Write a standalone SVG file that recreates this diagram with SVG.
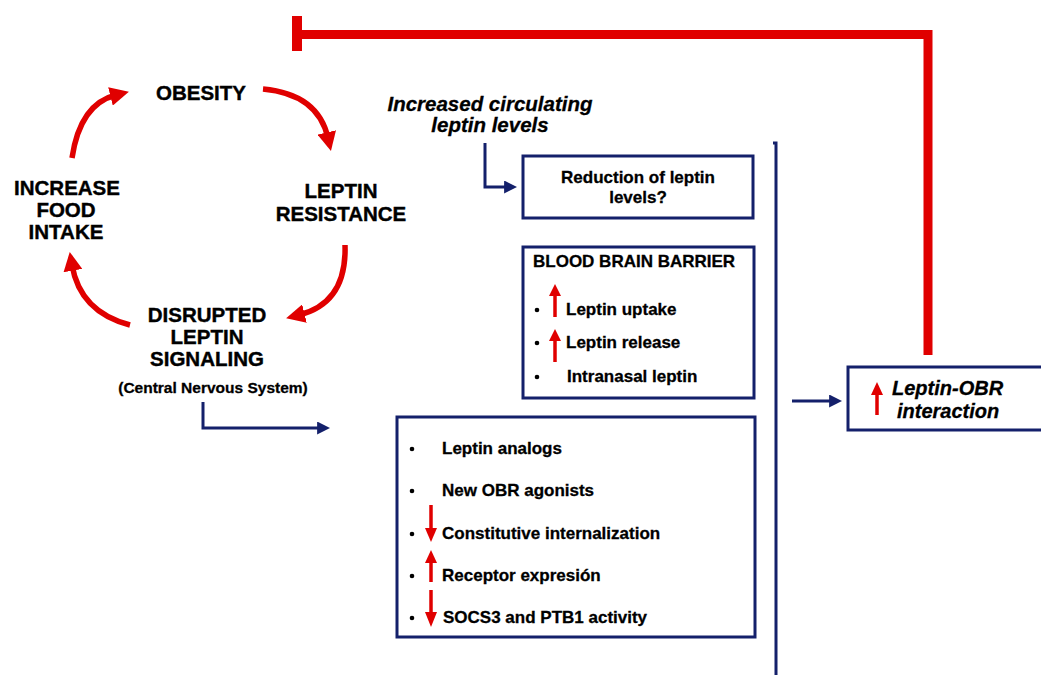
<svg xmlns="http://www.w3.org/2000/svg" width="1041" height="675" viewBox="0 0 1041 675">
<style>
.cyc{font-family:"Liberation Sans",Arial,sans-serif;font-weight:bold;font-size:20.5px;fill:#000;stroke:#000;stroke-width:0.4;text-anchor:middle}
.bx{font-family:"Liberation Sans",Arial,sans-serif;font-weight:bold;font-size:17px;fill:#000;stroke:#000;stroke-width:0.3}
.it{font-family:"Liberation Sans",Arial,sans-serif;font-weight:bold;font-style:italic;font-size:20.5px;fill:#000;stroke:#000;stroke-width:0.3}
.box{fill:#fff;stroke:#14206b;stroke-width:3}
.red{fill:none;stroke:#e00000;stroke-width:5.5}
.nav{fill:none;stroke:#14206b;stroke-width:3}
.rh{fill:#e00000}
.rs{stroke:#e00000;stroke-width:3.5}
.dot{fill:#000}
</style>
<defs>
<marker id="ra" viewBox="0 0 10 10" refX="3" refY="5" markerWidth="19" markerHeight="19" markerUnits="userSpaceOnUse" orient="auto"><path d="M0,0 L10,5 L0,10 z" fill="#e00000"/></marker>
<marker id="na" viewBox="0 0 10 10" refX="3" refY="5" markerWidth="13" markerHeight="13" markerUnits="userSpaceOnUse" orient="auto"><path d="M0,0 L10,5 L0,10 z" fill="#14206b"/></marker>
</defs>
<rect width="1041" height="675" fill="#fff"/>

<g id="connectors">
<path d="M297,34.5 H928 V355" fill="none" stroke="#e00000" stroke-width="9"/>
<rect x="292" y="16" width="10" height="35" fill="#e00000"/>
<path class="red" d="M72,158 Q80,104 116,95" marker-end="url(#ra)"/>
<path class="red" d="M263,89 Q318,94 328,138" marker-end="url(#ra)"/>
<path class="red" d="M345,245 Q347,303 299,315" marker-end="url(#ra)"/>
<path class="red" d="M130,325 Q80,312 72,265" marker-end="url(#ra)"/>
<path class="nav" d="M485,143 V187 H508" marker-end="url(#na)"/>
<path class="nav" d="M203,402 V428 H321" marker-end="url(#na)"/>
<path class="nav" d="M792,401 H833" marker-end="url(#na)"/>
<path class="nav" d="M773,143 H776 V675"/>
</g>

<g id="obesity"><text class="cyc" x="201" y="100">OBESITY</text></g>
<g id="leptin-resistance"><text class="cyc" x="341" y="198">LEPTIN</text><text class="cyc" x="341" y="221">RESISTANCE</text></g>
<g id="increase-food-intake"><text class="cyc" x="67" y="195">INCREASE</text><text class="cyc" x="66" y="217">FOOD</text><text class="cyc" x="66" y="239">INTAKE</text></g>
<g id="disrupted-signaling"><text class="cyc" x="207" y="322">DISRUPTED</text><text class="cyc" x="207" y="344">LEPTIN</text><text class="cyc" x="207" y="366">SIGNALING</text>
<text class="cyc" x="213" y="393" style="font-size:15.5px;stroke-width:0.3">(Central Nervous System)</text></g>

<g id="increased-circulating"><text class="it" x="490" y="111" text-anchor="middle">Increased circulating</text><text class="it" x="490" y="132" text-anchor="middle">leptin levels</text></g>

<g id="reduction-box"><rect class="box" x="523" y="156" width="230" height="62"/>
<text class="bx" x="638" y="183" text-anchor="middle">Reduction of leptin</text><text class="bx" x="638" y="203" text-anchor="middle">levels?</text></g>

<g id="bbb-box"><rect class="box" x="523" y="247" width="231" height="151"/>
<text class="bx" x="533" y="267">BLOOD BRAIN BARRIER</text>
<circle class="dot" cx="537" cy="310" r="2.3"/><circle class="dot" cx="537" cy="343" r="2.3"/><circle class="dot" cx="537" cy="377" r="2.3"/>
<line class="rs" x1="555" y1="317" x2="555" y2="294"/><polygon class="rh" points="549,296 555,284 561,296"/>
<line class="rs" x1="555" y1="362" x2="555" y2="339"/><polygon class="rh" points="549,341 555,329 561,341"/>
<text class="bx" x="566" y="315">Leptin uptake</text>
<text class="bx" x="566" y="348">Leptin release</text>
<text class="bx" x="567" y="382">Intranasal leptin</text></g>

<g id="strategies-box"><rect class="box" x="397" y="417" width="358" height="220"/>
<circle class="dot" cx="412" cy="449" r="2.3"/><circle class="dot" cx="412" cy="491" r="2.3"/><circle class="dot" cx="412" cy="534" r="2.3"/><circle class="dot" cx="412" cy="576" r="2.3"/><circle class="dot" cx="412" cy="618" r="2.3"/>
<line class="rs" x1="431" y1="505" x2="431" y2="530"/><polygon class="rh" points="425,528 431,542 437,528"/>
<line class="rs" x1="431" y1="582" x2="431" y2="561"/><polygon class="rh" points="425,563 431,550 437,563"/>
<line class="rs" x1="431" y1="590" x2="431" y2="614"/><polygon class="rh" points="425,612 431,627 437,612"/>
<text class="bx" x="442" y="454">Leptin analogs</text>
<text class="bx" x="442" y="496">New OBR agonists</text>
<text class="bx" x="442" y="539">Constitutive internalization</text>
<text class="bx" x="442" y="581">Receptor expresión</text>
<text class="bx" x="443" y="623">SOCS3 and PTB1 activity</text></g>

<g id="leptin-obr-box"><rect class="box" x="848" y="367" width="200" height="63"/>
<line class="rs" x1="877" y1="415" x2="877" y2="393"/><polygon class="rh" points="871,395 877,382 883,395"/>
<text class="it" x="892" y="395" style="font-size:20px">Leptin-OBR</text>
<text class="it" x="897" y="418" style="font-size:20px">interaction</text></g>
</svg>
